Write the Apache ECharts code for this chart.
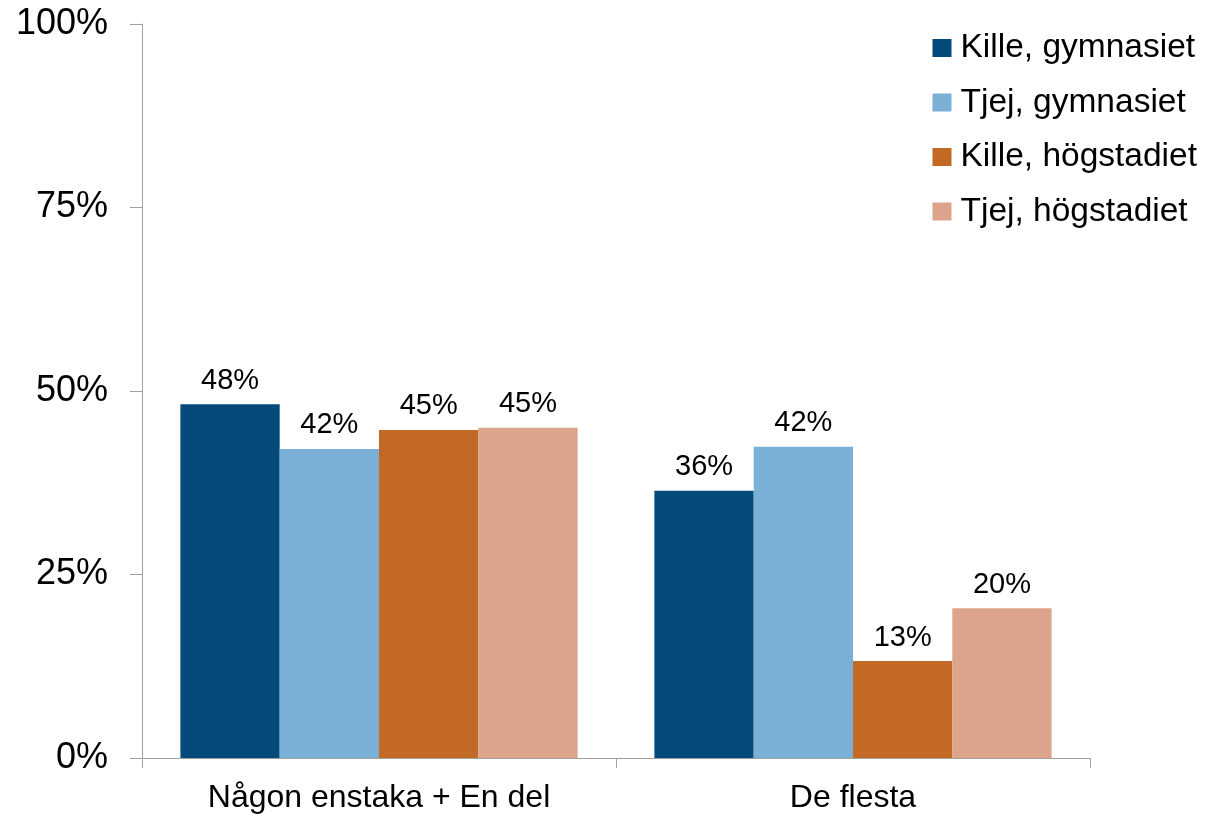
<!DOCTYPE html>
<html>
<head>
<meta charset="utf-8">
<script src="https://cdn.jsdelivr.net/npm/echarts@6/dist/echarts.min.js"></script>
<style>
html,body{margin:0;padding:0;background:#fff;}
#chart{width:1212px;height:814px;}
</style>
</head>
<body>
<div id="chart"></div>
<script>
// Answer groups on the x axis
const categories = ['Någon enstaka + En del', 'De flesta'];
// Share per group (percent)
const killeGymnasiet = [48.2, 36.4];
const tjejGymnasiet = [42.1, 42.4];
const killeHogstadiet = [44.7, 13.2];
const tjejHogstadiet = [45.0, 20.4];
const seriesNames = ['Kille, gymnasiet', 'Tjej, gymnasiet', 'Kille, högstadiet', 'Tjej, högstadiet'];
const seriesColors = ['#034a7a', '#7aafd6', '#c26926', '#dca48a'];
const yTicks = [0, 25, 50, 75, 100];

const font = '"Liberation Sans", Arial, sans-serif';
const allValues = [killeGymnasiet, tjejGymnasiet, killeHogstadiet, tjejHogstadiet];

const chart = echarts.init(document.getElementById('chart'));
chart.setOption({
  animation: false,
  textStyle: { fontFamily: font },
  grid: { left: 142, right: 122, top: 24, bottom: 55 },
  legend: {
    orient: 'vertical',
    right: 10,
    top: 26,
    itemWidth: 19,
    itemHeight: 18,
    itemGap: 20.5,
    icon: 'rect',
    textStyle: { fontFamily: font, fontSize: 33.5, color: '#000', padding: [0, 0, 0, 4] },
    data: seriesNames
  },
  xAxis: {
    type: 'category',
    data: categories,
    axisLine: { lineStyle: { color: '#a0a0a0', width: 1 } },
    axisTick: { show: true, length: 10, lineStyle: { color: '#a0a0a0' } },
    axisLabel: { fontFamily: font, fontSize: 32, color: '#000', margin: 24 }
  },
  yAxis: {
    type: 'value',
    min: 0,
    max: 100,
    interval: 25,
    splitLine: { show: false },
    axisLine: { show: true, lineStyle: { color: '#a0a0a0', width: 1 } },
    axisTick: { show: true, length: 12, lineStyle: { color: '#a0a0a0' } },
    axisLabel: {
      fontFamily: font, fontSize: 36, color: '#000', margin: 34,
      padding: [3, 0, 0, 0],
      formatter: v => yTicks.includes(v) ? v + '%' : ''
    }
  },
  series: seriesNames.map((name, i) => ({
    name,
    type: 'bar',
    data: allValues[i],
    barGap: '0%',
    barCategoryGap: '16.2%',
    itemStyle: { color: seriesColors[i] },
    label: {
      show: true,
      position: 'top',
      distance: 9,
      fontFamily: font,
      fontSize: 29,
      color: '#000',
      formatter: p => Math.round(p.value) + '%'
    }
  }))
});
</script>
</body>
</html>
